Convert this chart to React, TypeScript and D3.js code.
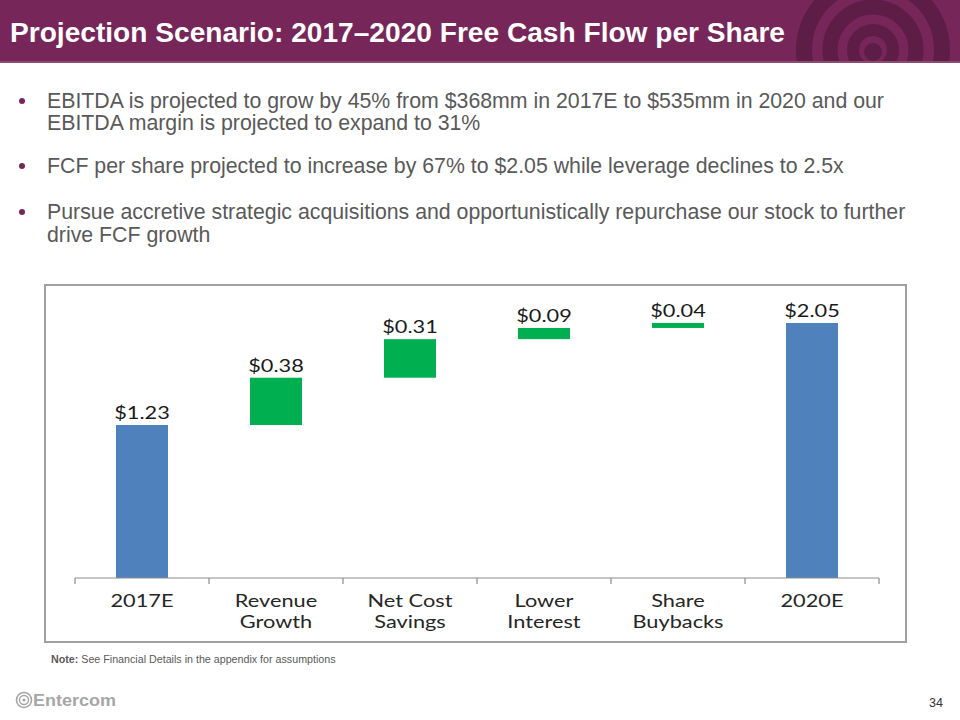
import React from "react";
import * as d3 from "d3";

// ---- Data ----
const categories = ["2017E", "Revenue Growth", "Net Cost Savings", "Lower Interest", "Share Buybacks", "2020E"];
const categoryLines = [["2017E"], ["Revenue", "Growth"], ["Net Cost", "Savings"], ["Lower", "Interest"], ["Share", "Buybacks"], ["2020E"]];
const values = [1.23, 0.38, 0.31, 0.09, 0.04, 2.05];
const barKinds = ["total", "step", "step", "step", "step", "total"];

const titleText = "Projection Scenario: 2017\u20132020 Free Cash Flow per Share";
const bulletItems = [
  ["EBITDA is projected to grow by 45% from $368mm in 2017E to $535mm in 2020 and our", "EBITDA margin is projected to expand to 31%"],
  ["FCF per share projected to increase by 67% to $2.05 while leverage declines to 2.5x"],
  ["Pursue accretive strategic acquisitions and opportunistically repurchase our stock to further", "drive FCF growth"],
];
const noteBold = "Note:";
const noteText = " See Financial Details in the appendix for assumptions";
const pageNumber = "34";
const brand = "Entercom";

// ---- Styles ----
const PURPLE = "#772659";
const PURPLE_DARK = "#5E1D47";
const BLUE = "#4F81BD";
const GREEN = "#00AF50";
const TEXT_GRAY = "#595959";
const CHART_FONT = "Lato, 'Open Sans', sans-serif";
const STRETCH = 1.28;

export default function App() {
  const W = 960, H = 720;
  const axisLeft = 75, axisRight = 879, baseY = 578;
  const pxPerUnit = 124.4;

  const x = d3.scaleBand<string>()
    .domain(categories)
    .range([axisLeft, axisRight])
    .paddingInner(0.612)
    .paddingOuter(0.306);
  const yMax = 2.3;
  const y = d3.scaleLinear().domain([0, yMax]).range([baseY, baseY - yMax * pxPerUnit]);

  let running = 0;
  const bars = values.map((v, i) => {
    let y0: number, y1: number;
    if (barKinds[i] === "total") { y0 = 0; y1 = v; running = v; }
    else { y0 = running; y1 = running + v; running = y1; }
    return { cat: categories[i], lines: categoryLines[i], v, y0, y1, kind: barKinds[i] };
  });

  const fmt = d3.format(".2f");
  const step = x.step();
  const boundaries = d3.range(categories.length + 1).map(i => axisLeft + i * step);

  const bulletBaselines = [[108, 130], [173], [219, 242]];

  return (
    <svg width={W} height={H} style={{ position: "absolute", left: 0, top: 0, background: "#fff" }}>
      <defs>
        <clipPath id="titleClip"><rect x={0} y={0} width={W} height={63} /></clipPath>
      </defs>
      {/* Title bar */}
      <rect x={0} y={0} width={W} height={63} fill={PURPLE} />
      <g clipPath="url(#titleClip)" fill="none" stroke={PURPLE_DARK}>
        <circle cx={873} cy={50} r={69} strokeWidth={16} />
        <circle cx={873} cy={50} r={43} strokeWidth={15} />
        <circle cx={873} cy={50} r={20} strokeWidth={12} />
        <circle cx={873} cy={52} r={9} fill={PURPLE_DARK} stroke="none" />
      </g>
      <rect x={0} y={61} width={W} height={2} fill="#8A4A72" />
      <text x={10} y={42} fill="#fff" fontFamily="Arial, 'Liberation Sans', sans-serif" fontWeight="bold" fontSize={27}
        textLength={775} lengthAdjust="spacingAndGlyphs">{titleText}</text>

      {/* Bullets */}
      {bulletItems.map((lines, i) => (
        <g key={i}>
          <circle cx={22} cy={bulletBaselines[i][0] - 7} r={3} fill={PURPLE} />
          {lines.map((ln, j) => (
            <text key={j} x={47} y={bulletBaselines[i][j]} fill={TEXT_GRAY}
              fontFamily="Arial, 'Liberation Sans', sans-serif" fontSize={21.3}>{ln}</text>
          ))}
        </g>
      ))}

      {/* Chart frame */}
      <rect x={45} y={285} width={861} height={357} fill="#fff" stroke="#A0A0A0" strokeWidth={2} />

      {/* Bars */}
      {bars.map((b, i) => {
        const bx = x(b.cat)!;
        const top = y(b.y1);
        const bottom = y(b.y0);
        const cx = bx + x.bandwidth() / 2;
        return (
          <g key={i}>
            <rect x={bx} y={top} width={x.bandwidth()} height={Math.max(1, bottom - top)}
              fill={b.kind === "total" ? BLUE : GREEN} />
            <g transform={`translate(${cx},${top - 6}) scale(${STRETCH},1)`}>
              <text textAnchor="middle" fontFamily={CHART_FONT} fontSize={17} fill="#1a1a1a">{"$" + fmt(b.v)}</text>
            </g>
          </g>
        );
      })}

      {/* Axis */}
      <line x1={axisLeft} x2={axisRight} y1={baseY} y2={baseY} stroke="#8C8C8C" strokeWidth={1.2} />
      {boundaries.map((bx, i) => (
        <line key={i} x1={bx} x2={bx} y1={baseY} y2={baseY + 6} stroke="#8C8C8C" strokeWidth={1.2} />
      ))}
      {bars.map((b, i) => {
        const cx = x(b.cat)! + x.bandwidth() / 2;
        return b.lines.map((ln, j) => (
          <g key={`${i}-${j}`} transform={`translate(${cx},${607 + j * 20.5}) scale(${STRETCH},1)`}>
            <text textAnchor="middle" fontFamily={CHART_FONT} fontSize={17} fill="#262626">{ln}</text>
          </g>
        ));
      })}

      {/* Note */}
      <text x={51} y={663} fontFamily="Arial, 'Liberation Sans', sans-serif" fontSize={10.7} fill={TEXT_GRAY}>
        <tspan fontWeight="bold">{noteBold}</tspan>{noteText}
      </text>

      {/* Footer */}
      <g fill="none" stroke="#A6A6A6">
        <circle cx={24} cy={700} r={7.5} strokeWidth={1.6} />
        <circle cx={24} cy={700} r={4.5} strokeWidth={1.4} />
        <circle cx={24} cy={700} r={1.6} fill="#A6A6A6" stroke="none" />
      </g>
      <text x={33} y={706} fontFamily="Arial, 'Liberation Sans', sans-serif" fontWeight="bold" fontSize={17}
        fill="#A6A6A6" textLength={83} lengthAdjust="spacingAndGlyphs">{brand}</text>
      <text x={943} y={707} textAnchor="end" fontFamily="Arial, 'Liberation Sans', sans-serif" fontSize={13}
        fill="#333" textLength={14} lengthAdjust="spacingAndGlyphs">{pageNumber}</text>
    </svg>
  );
}
